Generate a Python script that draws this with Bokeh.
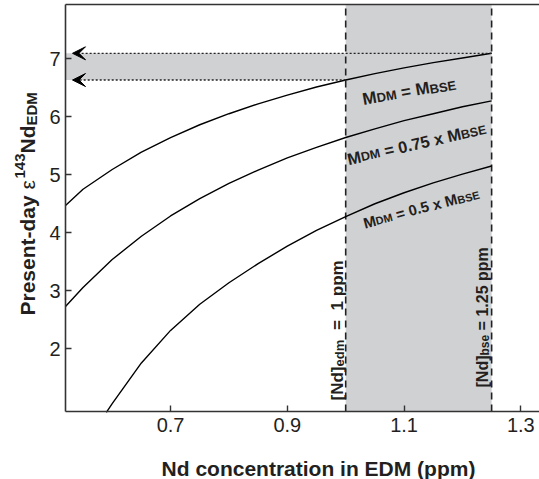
import math

from bokeh.embed import file_html
from bokeh.models import (Arrow, BoxAnnotation, FixedTicker, Label,
                          LinearAxis, Range1d, VeeHead)
from bokeh.plotting import figure
from bokeh.resources import INLINE

# Nd concentration in the early depleted mantle (ppm)
nd_conc = [0.52, 0.55, 0.60, 0.65, 0.70, 0.75, 0.80, 0.85, 0.90, 0.95,
           1.00, 1.05, 1.10, 1.15, 1.20, 1.25]
# present-day epsilon-143Nd of the EDM for three depleted-mantle masses
eps_m_bse = [4.47, 4.75, 5.09, 5.39, 5.64, 5.86, 6.05, 6.22, 6.37, 6.51,
             6.63, 6.74, 6.84, 6.93, 7.01, 7.09]
eps_m_075 = [2.73, 3.06, 3.54, 3.94, 4.29, 4.59, 4.85, 5.08, 5.29, 5.47,
             5.64, 5.79, 5.93, 6.05, 6.17, 6.27]
nd_conc_05 = [0.59, 0.60, 0.65, 0.70, 0.75, 0.80, 0.85, 0.90, 0.95,
              1.00, 1.05, 1.10, 1.15, 1.20, 1.25]
eps_m_050 = [0.91, 1.06, 1.76, 2.32, 2.77, 3.14, 3.47, 3.77, 4.04,
             4.28, 4.50, 4.69, 4.86, 5.01, 5.15]

nd_edm = 1.0    # [Nd]edm
nd_bse = 1.25   # [Nd]bse
x_ticks = [0.7, 0.9, 1.1, 1.3]
y_ticks = [2, 3, 4, 5, 6, 7]

# axes box inside the canvas (pixels) and its data limits
W, H = 539, 479
BOX_L, BOX_T, BOX_R, BOX_B = 65, 4, 539, 411
X_LO, X_HI = 0.52, 1.332
Y_LO, Y_HI = 0.924, 7.93
XS = (BOX_R - BOX_L) / (X_HI - X_LO)   # px per data unit
YS = (BOX_B - BOX_T) / (Y_HI - Y_LO)

FONT = "Liberation Sans"
INK = "#231f20"
AXIS = "#333333"
GREY = "#d0d1d3"

# the frame fills the whole canvas so that titles drawn as labels stay visible
p = figure(frame_width=W, frame_height=H,
           min_border_left=0, min_border_right=0,
           min_border_top=0, min_border_bottom=0,
           x_range=Range1d(X_LO - BOX_L / XS, X_HI + (W - BOX_R) / XS),
           y_range=Range1d(Y_LO - (H - BOX_B) / YS, Y_HI + BOX_T / YS),
           x_axis_location=None, y_axis_location=None,
           output_backend="svg", toolbar_location=None,
           background_fill_color="white", border_fill_color="white")
p.outline_line_color = None
p.grid.visible = False

xaxis = LinearAxis(fixed_location=Y_LO, bounds=(X_LO, X_HI))
yaxis = LinearAxis(fixed_location=X_LO, bounds=(Y_LO, Y_HI))
for ax, ticks in ((xaxis, x_ticks), (yaxis, y_ticks)):
    ax.ticker = FixedTicker(ticks=ticks)
    ax.major_tick_in = 6
    ax.major_tick_out = 0
    ax.minor_tick_line_color = None
    ax.axis_line_width = 1.6
    ax.axis_line_color = AXIS
    ax.major_tick_line_width = 1.4
    ax.major_tick_line_color = AXIS
    ax.major_label_text_font = FONT
    ax.major_label_text_font_size = "20px"
    ax.major_label_text_color = INK
xaxis.major_label_standoff = 6
yaxis.major_label_standoff = 5
p.add_layout(xaxis, "below")
p.add_layout(yaxis, "left")

# top frame line
p.segment(x0=[X_LO], y0=[Y_HI], x1=[X_HI + (W - BOX_R) / XS], y1=[Y_HI],
          line_color=AXIS, line_width=1.6)

eps_at_edm = eps_m_bse[nd_conc.index(nd_edm)]
eps_at_bse = eps_m_bse[nd_conc.index(nd_bse)]

# grey ranges: EDM concentration window and resulting epsilon window
p.add_layout(BoxAnnotation(left=nd_edm, right=nd_bse, bottom=Y_LO, top=Y_HI,
                           fill_color=GREY, fill_alpha=1, line_alpha=0,
                           level="underlay"))
p.add_layout(BoxAnnotation(left=X_LO, right=nd_edm, bottom=eps_at_edm,
                           top=eps_at_bse, fill_color=GREY, fill_alpha=1,
                           line_alpha=0, level="underlay"))

p.segment(x0=[nd_edm, nd_bse], y0=[Y_LO, Y_LO], x1=[nd_edm, nd_bse],
          y1=[Y_HI, Y_HI], line_color="#222222", line_width=1.6,
          line_dash="7 5")

# model curves
for xs, ys in ((nd_conc, eps_m_bse), (nd_conc, eps_m_075), (nd_conc_05, eps_m_050)):
    p.line(xs, ys, line_color="black", line_width=1.4)

# dotted arrows reading the epsilon window off the y axis
arrow_tip = X_LO + 7 / XS
for x0, yv in ((nd_bse, eps_at_bse), (nd_edm, eps_at_edm)):
    p.add_layout(Arrow(x_start=x0, y_start=yv, x_end=arrow_tip, y_end=yv,
                       line_color="#222222", line_width=1.3, line_dash="2 2",
                       end=VeeHead(size=13, fill_color="black",
                                   line_color="black", line_width=1)))

# approximate advance widths (em) of the sans faces used for the labels
BOLD_W = {"M": .833, "D": .722, "B": .722, "S": .667, "E": .667, "=": .584,
          " ": .278, ".": .278, "x": .556, "[": .333, "]": .333, "N": .722,
          "d": .611, "b": .611, "s": .556, "e": .556, "m": .889, "p": .611,
          "r": .389, "n": .611, "t": .333, "-": .333, "a": .556, "y": .556,
          "P": .667}
REG_W = {"ε": .52}


def text_width(text, size, style):
    table = REG_W if style == "normal" else BOLD_W
    return sum(table.get(ch, .556) for ch in text) * size


def px_to_x(px):
    return X_LO + (px - BOX_L) / XS


def py_to_y(py):
    return Y_LO + (BOX_B - py) / YS


def rich_label(sx, sy, angle_deg, pieces):
    """Lay out runs (text, size, style, raise_px[, extra_gap_px]) along one
    baseline starting at canvas pixel (sx, sy)."""
    th = math.radians(angle_deg)
    x0, y0 = px_to_x(sx), py_to_y(sy)
    adv = 0.0
    for piece in pieces:
        text, size, style, rise = piece[:4]
        adv += piece[4] if len(piece) > 4 else 0
        lead = len(text) - len(text.lstrip(" "))
        adv += lead * BOLD_W[" "] * size
        core = text.strip(" ")
        dx = adv * math.cos(th) - rise * math.sin(th)
        dy = adv * math.sin(th) + rise * math.cos(th)
        p.add_layout(Label(x=x0 + dx / XS, y=y0 + dy / YS, text=core,
                           angle=th, text_font=FONT,
                           text_font_size=f"{size}px", text_font_style=style,
                           text_color=INK, text_align="left",
                           text_baseline="alphabetic"))
        adv += text_width(core, size, style)
        trail = len(text) - len(text.rstrip(" "))
        adv += trail * BOLD_W[" "] * size


# curve labels
rich_label(362, 99, 10,
           [("M", 17, "bold", 0), ("DM", 13, "bold", -1), (" = ", 17, "bold", 0),
            ("M", 17, "bold", 0), ("BSE", 13, "bold", -2)])
rich_label(347, 159, 13,
           [("M", 16.5, "bold", 0), ("DM", 12.5, "bold", -1),
            (" = ", 16.5, "bold", 0), ("0.75", 16.5, "bold", 0),
            (" x ", 16.5, "bold", 0), ("M", 16.5, "bold", 0),
            ("BSE", 12.5, "bold", -2)])
rich_label(363, 223, 15,
           [("M", 15, "bold", 0), ("DM", 11, "bold", -1), (" = ", 15, "bold", 0),
            ("0.5", 15, "bold", 0), (" x ", 15, "bold", 0),
            ("M", 15, "bold", 0), ("BSE", 11, "bold", -2)])

# vertical labels beside the concentration bounds
rich_label(337, 400, 90,
           [("[Nd]", 17, "bold", 0), ("edm", 13, "bold", -2),
            (" = ", 17, "bold", 0, 5), ("1 ppm", 17, "bold", 0, 5)])
rich_label(482, 387, 90,
           [("[Nd]", 16, "bold", 0), ("bse", 12, "bold", -2),
            (" = 1.25 ppm", 16, "bold", 0)])

# axis titles
rich_label(27, 315, 90,
           [("Present-day ", 21, "bold", 0), ("ε", 21, "normal", 0),
            ("143", 15, "bold", 8), ("Nd", 21, "bold", 0),
            ("EDM", 15, "bold", -4)])
p.add_layout(Label(x=px_to_x(318), y=py_to_y(468),
                   text="Nd concentration in EDM (ppm)", text_font=FONT,
                   text_font_size="21px", text_font_style="bold",
                   text_color=INK, text_align="center",
                   text_baseline="alphabetic"))

open("out.html", "w").write(file_html(p, INLINE))
